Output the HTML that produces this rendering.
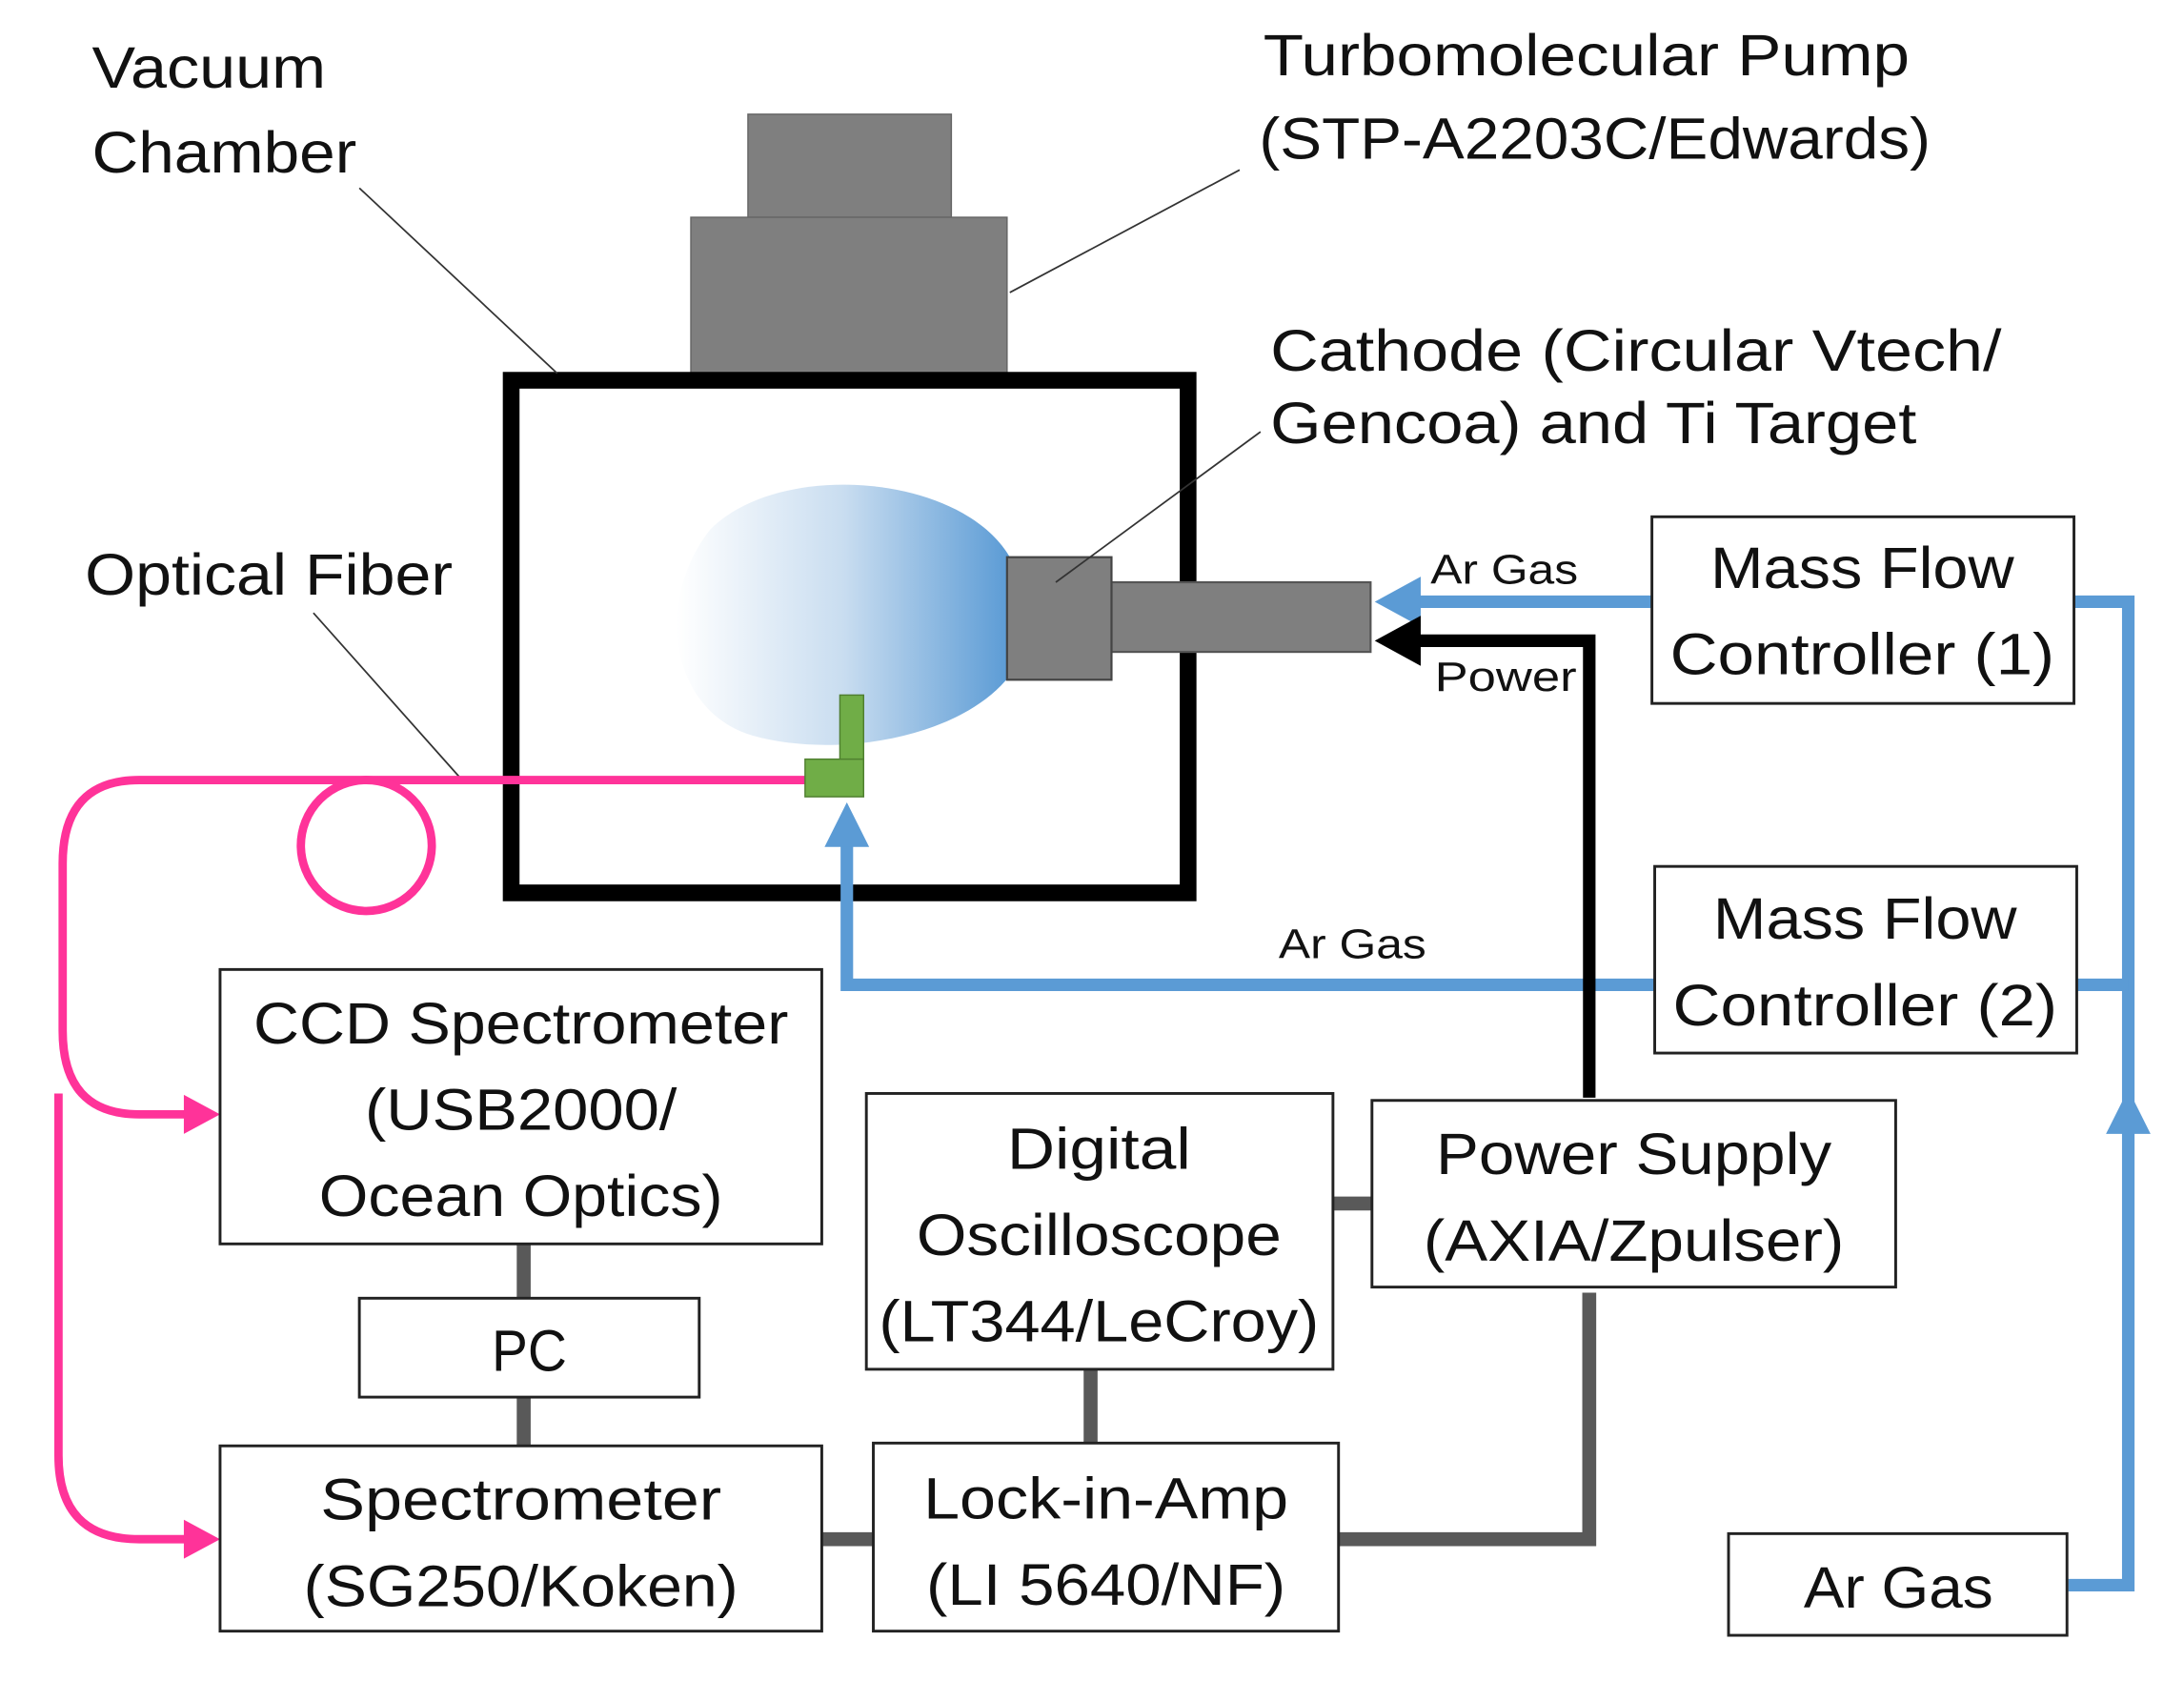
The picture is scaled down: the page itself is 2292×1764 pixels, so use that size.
<!DOCTYPE html>
<html><head><meta charset="utf-8"><style>
html,body{margin:0;padding:0;background:#fff;}
svg{display:block;}
text{font-family:"Liberation Sans",sans-serif;fill:#111;}
</style></head><body>
<svg width="2292" height="1764" viewBox="0 0 1568 1206.8" preserveAspectRatio="none" xmlns="http://www.w3.org/2000/svg">
<defs>
<linearGradient id="pl" x1="0" x2="1" y1="0" y2="0">
<stop offset="0" stop-color="#fff"/>
<stop offset="0.5" stop-color="#c9ddf0"/>
<stop offset="1" stop-color="#5b9bd5"/>
</linearGradient>
</defs>
<rect width="1568" height="1207" fill="#fff"/>
<rect x="537" y="82" width="146" height="74" fill="#7f7f7f" stroke="#666" stroke-width="1"/>
<rect x="496" y="156" width="227" height="113" fill="#7f7f7f" stroke="#666" stroke-width="1"/>
<path d="M725,400 C690,340 560,330 510,380 C470,430 480,510 540,528 C600,545 690,530 725,485 Z" fill="url(#pl)"/>
<rect x="367" y="273" width="486" height="368" fill="none" stroke="#000" stroke-width="12"/>
<rect x="798" y="418" width="186" height="50" fill="#7f7f7f" stroke="#555" stroke-width="1.5"/>
<rect x="723" y="400" width="75" height="88" fill="#7f7f7f" stroke="#444" stroke-width="1.5"/>
<g stroke="#333" stroke-width="1.2">
<line x1="258" y1="135" x2="400" y2="268"/>
<line x1="890" y1="122" x2="725" y2="210"/>
<line x1="905" y1="310" x2="758" y2="418"/>
<line x1="225" y1="440" x2="330" y2="558"/>
</g>
<g fill="none" stroke="#ff3399" stroke-width="6">
<path d="M580,560 L100,560 Q45,560 45,620 L45,740 Q45,800 100,800 L135,800"/>
<circle cx="263" cy="607" r="47"/>
<path d="M42,785 L42,1045 Q42,1105 100,1105 L135,1105"/>
</g>
<polygon points="158,800 132,786 132,814" fill="#ff3399"/>
<polygon points="158,1105 132,1091 132,1119" fill="#ff3399"/>
<rect x="603" y="499" width="17" height="50" fill="#70ad47" stroke="#4f7f30" stroke-width="1"/>
<rect x="578" y="545" width="42" height="27" fill="#70ad47" stroke="#4f7f30" stroke-width="1"/>
<g fill="none" stroke="#5b9bd5" stroke-width="9">
<path d="M1186,432 L1010,432"/>
<path d="M1489,432 L1528,432 L1528,1138 L1485,1138"/>
<path d="M1491,707 L1528,707"/>
<path d="M1188,707 L608,707 L608,600"/>
</g>
<polygon points="987,432 1020,414 1020,450" fill="#5b9bd5"/>
<polygon points="608,576 592,608 624,608" fill="#5b9bd5"/>
<polygon points="1528,782 1512,814 1544,814" fill="#5b9bd5"/>
<path d="M1141,788 L1141,460 L1010,460" fill="none" stroke="#000" stroke-width="9"/>
<polygon points="987,460 1020,442 1020,478" fill="#000"/>
<g fill="none" stroke="#595959" stroke-width="10">
<line x1="376" y1="893" x2="376" y2="932"/>
<line x1="376" y1="1003" x2="376" y2="1038"/>
<line x1="590" y1="1105" x2="627" y2="1105"/>
<line x1="957" y1="864" x2="985" y2="864"/>
<line x1="783" y1="983" x2="783" y2="1036"/>
<path d="M961,1105 L1141,1105 L1141,928"/>
</g>
<g fill="#fff" stroke="#222" stroke-width="2">
<rect x="1186" y="371" width="303" height="134"/>
<rect x="1188" y="622" width="303" height="134"/>
<rect x="158" y="696" width="432" height="197"/>
<rect x="258" y="932" width="244" height="71"/>
<rect x="158" y="1038" width="432" height="133"/>
<rect x="622" y="785" width="335" height="198"/>
<rect x="985" y="790" width="376" height="134"/>
<rect x="627" y="1036" width="334" height="135"/>
<rect x="1241" y="1101" width="243" height="73"/>
</g>
<g font-size="42">
<text x="66" y="63" textLength="168" lengthAdjust="spacingAndGlyphs">Vacuum</text>
<text x="66" y="124" textLength="190" lengthAdjust="spacingAndGlyphs">Chamber</text>
<text x="907" y="54" textLength="464" lengthAdjust="spacingAndGlyphs">Turbomolecular Pump</text>
<text x="904" y="114" textLength="482" lengthAdjust="spacingAndGlyphs">(STP-A2203C/Edwards)</text>
<text x="912" y="266" textLength="525" lengthAdjust="spacingAndGlyphs">Cathode (Circular Vtech/</text>
<text x="912" y="318" textLength="464" lengthAdjust="spacingAndGlyphs">Gencoa) and Ti Target</text>
<text x="61" y="427" textLength="264" lengthAdjust="spacingAndGlyphs">Optical Fiber</text>
</g>
<g font-size="30">
<text x="1027" y="419" textLength="106" lengthAdjust="spacingAndGlyphs">Ar Gas</text>
<text x="1030" y="496" textLength="102" lengthAdjust="spacingAndGlyphs">Power</text>
<text x="918" y="688" textLength="106" lengthAdjust="spacingAndGlyphs">Ar Gas</text>
</g>
<g font-size="42" text-anchor="middle">
<text x="1337" y="422" textLength="218" lengthAdjust="spacingAndGlyphs">Mass Flow</text>
<text x="1337" y="484" textLength="276" lengthAdjust="spacingAndGlyphs">Controller (1)</text>
<text x="1339" y="674" textLength="218" lengthAdjust="spacingAndGlyphs">Mass Flow</text>
<text x="1339" y="736" textLength="276" lengthAdjust="spacingAndGlyphs">Controller (2)</text>
<text x="374" y="749" textLength="384" lengthAdjust="spacingAndGlyphs">CCD Spectrometer</text>
<text x="374" y="811" textLength="224" lengthAdjust="spacingAndGlyphs">(USB2000/</text>
<text x="374" y="873" textLength="290" lengthAdjust="spacingAndGlyphs">Ocean Optics)</text>
<text x="380" y="984" textLength="54" lengthAdjust="spacingAndGlyphs">PC</text>
<text x="374" y="1091" textLength="288" lengthAdjust="spacingAndGlyphs">Spectrometer</text>
<text x="374" y="1153" textLength="312" lengthAdjust="spacingAndGlyphs">(SG250/Koken)</text>
<text x="789" y="839" textLength="132" lengthAdjust="spacingAndGlyphs">Digital</text>
<text x="789" y="901" textLength="262" lengthAdjust="spacingAndGlyphs">Oscilloscope</text>
<text x="789" y="963" textLength="316" lengthAdjust="spacingAndGlyphs">(LT344/LeCroy)</text>
<text x="1173" y="843" textLength="284" lengthAdjust="spacingAndGlyphs">Power Supply</text>
<text x="1173" y="905" textLength="302" lengthAdjust="spacingAndGlyphs">(AXIA/Zpulser)</text>
<text x="794" y="1090" textLength="262" lengthAdjust="spacingAndGlyphs">Lock-in-Amp</text>
<text x="794" y="1152" textLength="258" lengthAdjust="spacingAndGlyphs">(LI 5640/NF)</text>
<text x="1363" y="1154" textLength="136" lengthAdjust="spacingAndGlyphs">Ar Gas</text>
</g>
</svg>
</body></html>
